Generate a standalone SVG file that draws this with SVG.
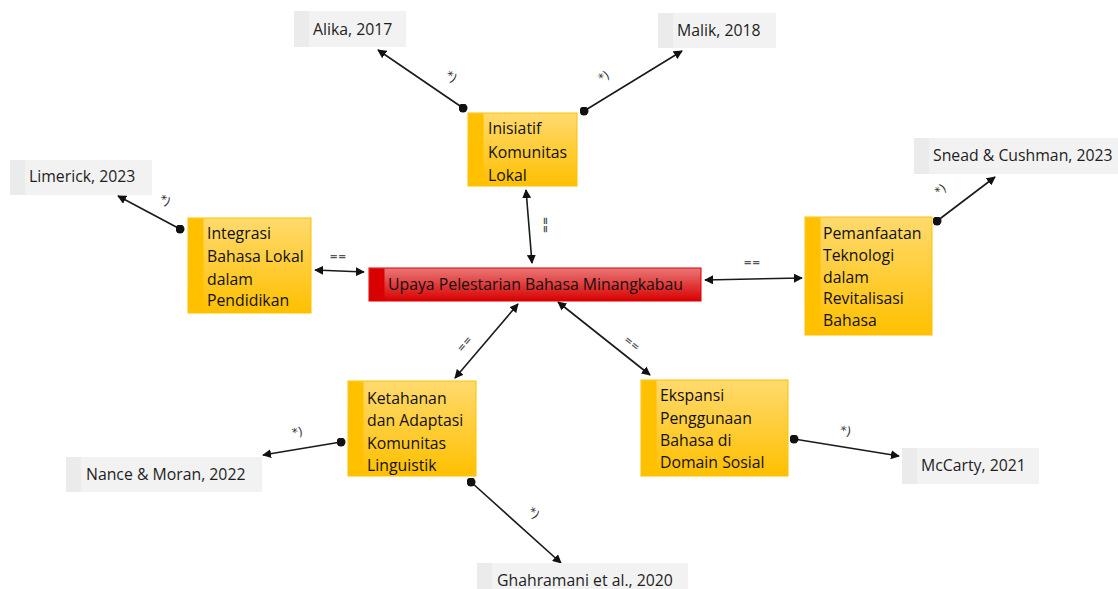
<svg xmlns="http://www.w3.org/2000/svg" width="1118" height="589" viewBox="0 0 1118 589">
<style>
.t{font-family:"Open Sans","Noto Sans","Liberation Sans",sans-serif;font-size:15.8px;fill:#111;font-weight:500}
.c{font-family:"Open Sans","Noto Sans","Liberation Sans",sans-serif;font-size:15.8px;fill:#1e1e1e;font-weight:500}
.lbl{font-family:"DejaVu Sans",sans-serif;font-size:10px;fill:#555;font-weight:bold}
.ast{font-family:"DejaVu Sans",sans-serif;font-size:12px;fill:#333}
.ln{stroke:#1a1a1a;stroke-width:1.6;fill:none}
.cite{fill:#f2f2f2}
.cstrip{fill:#ebebeb}
.ob{fill:url(#og);stroke:#ffc000;stroke-width:1}
.os{fill:#ffc000}
</style>
<defs>
<linearGradient id="og" x1="0" y1="0" x2="0" y2="1"><stop offset="0" stop-color="#ffda6e"/><stop offset="1" stop-color="#ffc000"/></linearGradient>
<linearGradient id="rg" x1="0" y1="0" x2="0" y2="1"><stop offset="0" stop-color="#ea7878"/><stop offset="1" stop-color="#d80000"/></linearGradient>
<marker id="ah" viewBox="0 0 10 10" refX="9" refY="5" markerWidth="9" markerHeight="9" markerUnits="userSpaceOnUse" orient="auto-start-reverse"><path d="M0,0 L10,5 L0,10 z" fill="#111"/></marker>
<marker id="dot" viewBox="0 0 10 10" refX="5" refY="5" markerWidth="9" markerHeight="9" markerUnits="userSpaceOnUse"><circle cx="5" cy="5" r="5" fill="#111"/></marker>
</defs>

<g id="connectors">
<line class="ln" x1="463" y1="108" x2="378" y2="50" marker-start="url(#dot)" marker-end="url(#ah)"/>
<line class="ln" x1="584" y1="111" x2="682" y2="51" marker-start="url(#dot)" marker-end="url(#ah)"/>
<line class="ln" x1="180" y1="229" x2="118" y2="196" marker-start="url(#dot)" marker-end="url(#ah)"/>
<line class="ln" x1="937" y1="221" x2="995" y2="177" marker-start="url(#dot)" marker-end="url(#ah)"/>
<line class="ln" x1="341" y1="442" x2="263" y2="455" marker-start="url(#dot)" marker-end="url(#ah)"/>
<line class="ln" x1="471" y1="482" x2="561" y2="563" marker-start="url(#dot)" marker-end="url(#ah)"/>
<line class="ln" x1="794" y1="439" x2="899" y2="456" marker-start="url(#dot)" marker-end="url(#ah)"/>
<line class="ln" x1="315" y1="270" x2="364" y2="272" marker-start="url(#ah)" marker-end="url(#ah)"/>
<line class="ln" x1="526" y1="190" x2="532" y2="263" marker-start="url(#ah)" marker-end="url(#ah)"/>
<line class="ln" x1="705" y1="280" x2="802" y2="278" marker-start="url(#ah)" marker-end="url(#ah)"/>
<line class="ln" x1="518" y1="304" x2="455" y2="378" marker-start="url(#ah)" marker-end="url(#ah)"/>
<line class="ln" x1="558" y1="302" x2="650" y2="375" marker-start="url(#ah)" marker-end="url(#ah)"/>
<text class="lbl" x="338" y="260" text-anchor="middle">==</text>
<text class="lbl" transform="translate(542,225) rotate(90)" text-anchor="middle">==</text>
<text class="lbl" x="752" y="266" text-anchor="middle">==</text>
<text class="lbl" transform="translate(467,346) rotate(-50)" text-anchor="middle">==</text>
<text class="lbl" transform="translate(630,346) rotate(38)" text-anchor="middle">==</text>
<text class="ast" transform="translate(449,80) rotate(35)" text-anchor="middle">*)</text>
<text class="ast" transform="translate(606,80) rotate(-32)" text-anchor="middle">*)</text>
<text class="ast" transform="translate(163,204) rotate(30)" text-anchor="middle">*)</text>
<text class="ast" transform="translate(943,193) rotate(-38)" text-anchor="middle">*)</text>
<text class="ast" transform="translate(298,436) rotate(-10)" text-anchor="middle">*)</text>
<text class="ast" transform="translate(531,516) rotate(42)" text-anchor="middle">*)</text>
<text class="ast" transform="translate(845,435) rotate(10)" text-anchor="middle">*)</text>
</g>

<g id="n-center">
<rect x="369" y="268" width="332" height="33" fill="url(#rg)" stroke="#e00000"/>
<rect x="369.5" y="268.5" width="15" height="32" fill="#d80000"/>
<text class="t" x="388" y="290">Upaya Pelestarian Bahasa Minangkabau</text>
</g>

<g id="n-inisiatif">
<rect class="ob" x="468" y="113" width="109" height="73"/>
<rect class="os" x="468.5" y="113.5" width="15" height="72"/>
<text class="t" x="488" y="134">Inisiatif</text>
<text class="t" x="488" y="158">Komunitas</text>
<text class="t" x="488" y="181">Lokal</text>
</g>

<g id="n-integrasi">
<rect class="ob" x="188" y="218" width="123" height="95"/>
<rect class="os" x="188.5" y="218.5" width="15" height="94"/>
<text class="t" x="207" y="239">Integrasi</text>
<text class="t" x="207" y="262">Bahasa Lokal</text>
<text class="t" x="207" y="285">dalam</text>
<text class="t" x="207" y="306">Pendidikan</text>
</g>

<g id="n-pemanfaatan">
<rect class="ob" x="805" y="217" width="127" height="118"/>
<rect class="os" x="805.5" y="217.5" width="15" height="117"/>
<text class="t" x="823" y="239">Pemanfaatan</text>
<text class="t" x="823" y="261">Teknologi</text>
<text class="t" x="823" y="283">dalam</text>
<text class="t" x="823" y="304">Revitalisasi</text>
<text class="t" x="823" y="326">Bahasa</text>
</g>

<g id="n-ketahanan">
<rect class="ob" x="348" y="381" width="128" height="95"/>
<rect class="os" x="348.5" y="381.5" width="15" height="94"/>
<text class="t" x="367" y="404">Ketahanan</text>
<text class="t" x="367" y="426">dan Adaptasi</text>
<text class="t" x="367" y="449">Komunitas</text>
<text class="t" x="367" y="471">Linguistik</text>
</g>

<g id="n-ekspansi">
<rect class="ob" x="641" y="380" width="147" height="96"/>
<rect class="os" x="641.5" y="380.5" width="15" height="95"/>
<text class="t" x="660" y="401">Ekspansi</text>
<text class="t" x="660" y="424">Penggunaan</text>
<text class="t" x="660" y="446">Bahasa di</text>
<text class="t" x="660" y="468">Domain Sosial</text>
</g>

<g id="n-alika">
<rect class="cite" x="294" y="11" width="112" height="36"/>
<rect class="cstrip" x="294" y="11" width="15" height="36"/>
<text class="c" x="313" y="35">Alika, 2017</text>
</g>
<g id="n-malik">
<rect class="cite" x="658" y="13" width="118" height="35"/>
<rect class="cstrip" x="658" y="13" width="15" height="35"/>
<text class="c" x="677" y="36">Malik, 2018</text>
</g>
<g id="n-limerick">
<rect class="cite" x="10" y="160" width="142" height="35"/>
<rect class="cstrip" x="10" y="160" width="15" height="35"/>
<text class="c" x="29" y="182">Limerick, 2023</text>
</g>
<g id="n-snead">
<rect class="cite" x="914" y="138" width="204" height="36"/>
<rect class="cstrip" x="914" y="138" width="15" height="36"/>
<text class="c" x="933" y="161">Snead &amp; Cushman, 2023</text>
</g>
<g id="n-nance">
<rect class="cite" x="66" y="457" width="196" height="35"/>
<rect class="cstrip" x="66" y="457" width="15" height="35"/>
<text class="c" x="86" y="480">Nance &amp; Moran, 2022</text>
</g>
<g id="n-ghahramani">
<rect class="cite" x="477" y="563" width="211" height="30"/>
<rect class="cstrip" x="477" y="563" width="15" height="30"/>
<text class="c" x="497" y="586">Ghahramani et al., 2020</text>
</g>
<g id="n-mccarty">
<rect class="cite" x="902" y="448" width="137" height="36"/>
<rect class="cstrip" x="902" y="448" width="15" height="36"/>
<text class="c" x="921" y="471">McCarty, 2021</text>
</g>
</svg>
